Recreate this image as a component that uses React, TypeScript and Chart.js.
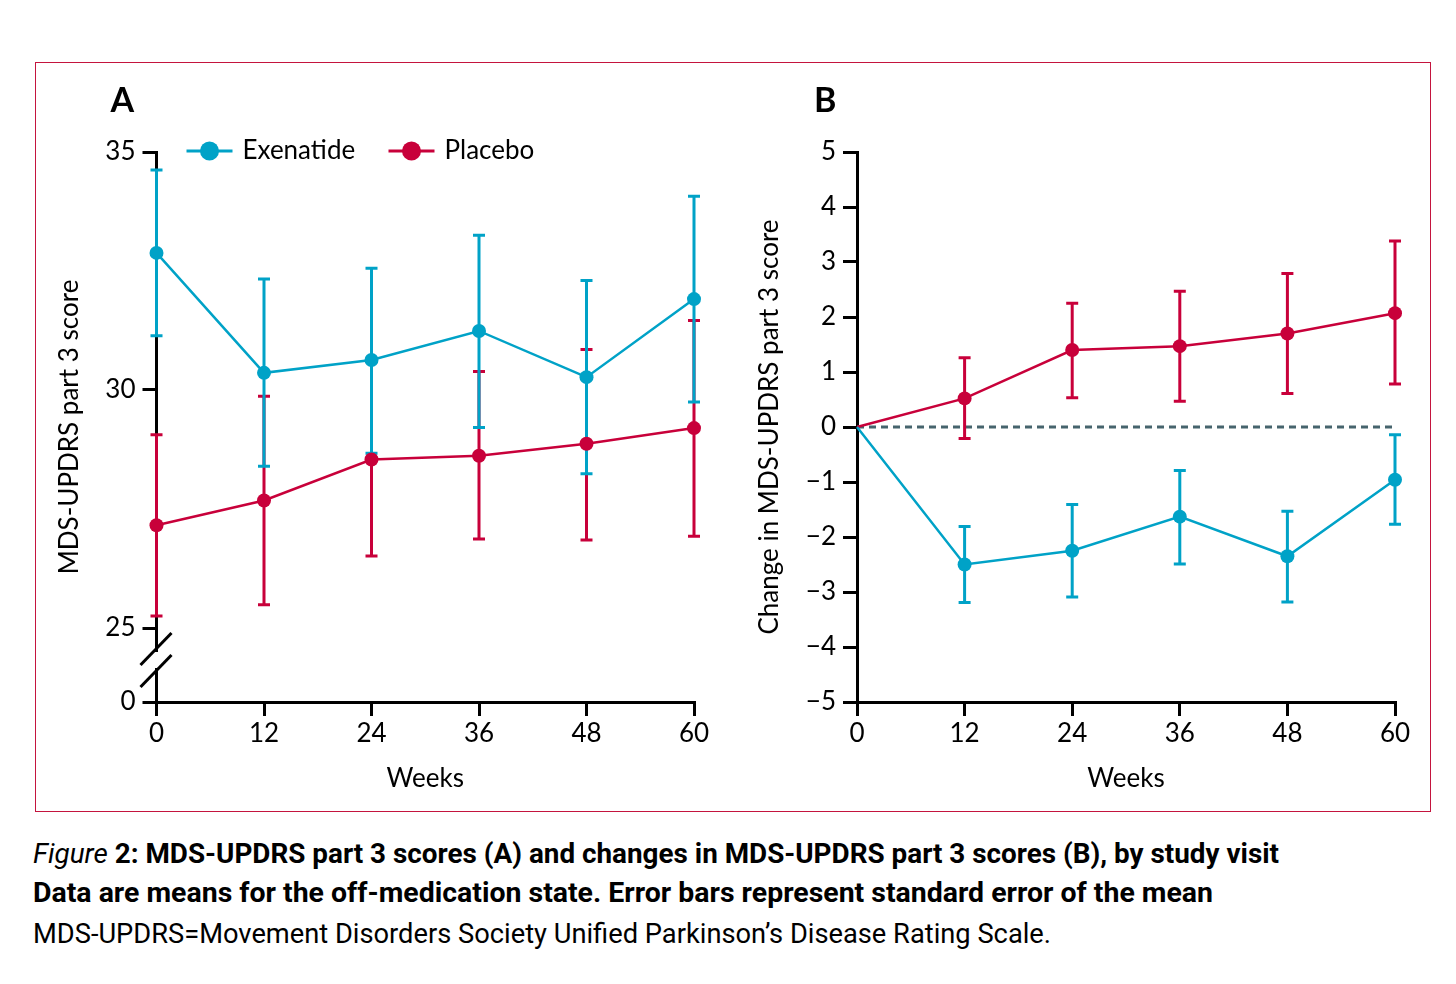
import React, { useEffect, useRef } from 'react';
import { Chart, registerables } from 'chart.js';

Chart.register(...registerables);

// ---------- data ----------
const weeks = [0, 12, 24, 36, 48, 60];

// Panel A: MDS-UPDRS part 3 score (mean, error bar high/low)
const exenatideScore = [32.88, 30.36, 30.63, 31.24, 30.27, 31.91];
const exenatideScoreHigh = [34.62, 32.33, 32.56, 33.25, 32.3, 34.07];
const exenatideScoreLow = [31.14, 28.4, 28.67, 29.21, 28.24, 29.75];
const placeboScore = [27.16, 27.68, 28.54, 28.62, 28.87, 29.2];
const placeboScoreHigh = [29.06, 29.87, 30.6, 30.39, 30.85, 31.46];
const placeboScoreLow = [25.25, 25.49, 26.51, 26.87, 26.85, 26.93];
const scoreTicks = [25, 30, 35];
const scoreAxisBreakLabel = '0';

// Panel B: change in MDS-UPDRS part 3 score
const exenatideChange = [0, -2.5, -2.25, -1.63, -2.35, -0.96];
const exenatideChangeHigh = [null, -1.81, -1.41, -0.79, -1.53, -0.14];
const exenatideChangeLow = [null, -3.19, -3.09, -2.49, -3.18, -1.77];
const placeboChange = [0, 0.52, 1.4, 1.47, 1.7, 2.07];
const placeboChangeHigh = [null, 1.26, 2.25, 2.47, 2.79, 3.38];
const placeboChangeLow = [null, -0.21, 0.53, 0.47, 0.61, 0.78];
const changeTicks = [-5, -4, -3, -2, -1, 0, 1, 2, 3, 4, 5];

const seriesNames = ['Exenatide', 'Placebo'];

// ---------- style ----------
const TEAL = '#00a2c7';
const RED = '#c8003a';
const FONT = 'Lato, "Open Sans", sans-serif';
const AXIS_FONT = { family: FONT, size: 26 };

const toPoints = (ys: (number | null)[]) => weeks.map((w, i) => ({ x: w, y: ys[i] }));
const fmtMinus = (v: number) => (v < 0 ? '\u2212' + Math.abs(v) : String(v));

type Err = { high: (number | null)[]; low: (number | null)[] };

function makeErrorBarPlugin(errs: Err[]) {
  return {
    id: 'errorBars',
    beforeDatasetsDraw(chart: any) {
      const { ctx } = chart;
      const xs = chart.scales.x;
      const ys = chart.scales.y;
      for (let i = errs.length - 1; i >= 0; i--) {
        const color = chart.data.datasets[i].borderColor;
        ctx.save();
        ctx.strokeStyle = color;
        ctx.lineWidth = 3;
        errs[i].high.forEach((h, j) => {
          const l = errs[i].low[j];
          if (h == null || l == null) return;
          const x = xs.getPixelForValue(weeks[j]);
          const yh = ys.getPixelForValue(h);
          const yl = ys.getPixelForValue(l);
          ctx.beginPath();
          ctx.moveTo(x, yh);
          ctx.lineTo(x, yl);
          ctx.moveTo(x - 6, yh);
          ctx.lineTo(x + 6, yh);
          ctx.moveTo(x - 6, yl);
          ctx.lineTo(x + 6, yl);
          ctx.stroke();
        });
        ctx.restore();
      }
    },
  };
}

function panelLabelPlugin(text: string, dx: number) {
  return {
    id: 'panelLabel',
    afterDraw(chart: any) {
      const { ctx, chartArea } = chart;
      ctx.save();
      ctx.font = `bold 34px ${FONT}`;
      ctx.fillStyle = '#000';
      ctx.textBaseline = 'middle';
      ctx.textAlign = 'left';
      ctx.fillText(text, chartArea.left + dx, chartArea.top - 51);
      ctx.restore();
    },
  };
}

const legendPlugin = {
  id: 'customLegend',
  afterDraw(chart: any) {
    const { ctx, chartArea } = chart;
    const y = chartArea.top - 1;
    const items = [
      { off: 30, color: TEAL, label: seriesNames[0] },
      { off: 232, color: RED, label: seriesNames[1] },
    ];
    ctx.save();
    items.forEach((it) => {
      const x0 = chartArea.left + it.off;
      ctx.strokeStyle = it.color;
      ctx.lineWidth = 3;
      ctx.beginPath();
      ctx.moveTo(x0, y);
      ctx.lineTo(x0 + 46, y);
      ctx.stroke();
      ctx.fillStyle = it.color;
      ctx.beginPath();
      ctx.arc(x0 + 23, y, 9.5, 0, Math.PI * 2);
      ctx.fill();
      ctx.fillStyle = '#000';
      ctx.font = `26px ${FONT}`;
      ctx.textBaseline = 'middle';
      ctx.textAlign = 'left';
      ctx.fillText(it.label, x0 + 56, y);
    });
    ctx.restore();
  },
};

const axisBreakPlugin = {
  id: 'axisBreak',
  afterDraw(chart: any) {
    const { ctx, chartArea } = chart;
    const ys = chart.scales.y;
    const x = chartArea.left;
    const p25 = ys.getPixelForValue(scoreTicks[0]);
    const c1 = p25 + 21;
    const c2 = p25 + 43;
    ctx.save();
    ctx.fillStyle = '#fff';
    ctx.fillRect(x - 3, c1 + 3, 6, c2 - c1 - 6);
    ctx.strokeStyle = '#000';
    ctx.lineWidth = 3;
    [c1, c2].forEach((c) => {
      ctx.beginPath();
      ctx.moveTo(x - 16, c + 16);
      ctx.lineTo(x + 15, c - 16);
      ctx.stroke();
    });
    ctx.restore();
  },
};

const zeroLinePlugin = {
  id: 'zeroLine',
  beforeDatasetsDraw(chart: any) {
    const { ctx, chartArea } = chart;
    const y = chart.scales.y.getPixelForValue(0);
    ctx.save();
    ctx.strokeStyle = '#46646d';
    ctx.lineWidth = 3;
    ctx.setLineDash([7, 5]);
    ctx.beginPath();
    ctx.moveTo(chartArea.left, y);
    ctx.lineTo(chartArea.right, y);
    ctx.stroke();
    ctx.restore();
  },
};

function baseScales(yWidth: number, yTitle: string) {
  return {
    x: {
      type: 'linear' as const,
      min: 0,
      max: 60,
      afterBuildTicks: (s: any) => {
        s.ticks = weeks.map((v) => ({ value: v }));
      },
      afterFit: (s: any) => {
        s.height = 108;
      },
      ticks: { font: AXIS_FONT, color: '#000', padding: 2, callback: (v: any) => String(v), maxRotation: 0 },
      grid: { drawOnChartArea: false, drawTicks: true, tickLength: 14, color: '#000', lineWidth: 3 },
      border: { display: true, color: '#000', width: 3 },
      title: { display: true, text: 'Weeks', font: AXIS_FONT, color: '#000', padding: { top: 0, bottom: 16 } },
    },
    y: {
      type: 'linear' as const,
      afterFit: (s: any) => {
        s.width = yWidth;
      },
      grid: { drawOnChartArea: false, drawTicks: true, tickLength: 14, color: '#000', lineWidth: 3 },
      border: { display: true, color: '#000', width: 3 },
      title: { display: true, text: yTitle, font: AXIS_FONT, color: '#000', padding: { top: 14, bottom: 0 } },
    },
  };
}

function lineDataset(label: string, color: string, ys: (number | null)[], radius: number | number[]) {
  return {
    label,
    data: toPoints(ys),
    borderColor: color,
    backgroundColor: color,
    pointBackgroundColor: color,
    pointBorderWidth: 0,
    pointRadius: radius,
    borderWidth: 2.5,
    tension: 0,
    clip: false as const,
  };
}

function ChartA() {
  const ref = useRef<HTMLCanvasElement>(null);
  useEffect(() => {
    const scales: any = baseScales(116.5, 'MDS-UPDRS part 3 score');
    const breakValue = scoreTicks[0] - 74 / 47.6;
    scales.y.min = breakValue;
    scales.y.max = scoreTicks[scoreTicks.length - 1];
    scales.y.afterBuildTicks = (s: any) => {
      s.ticks = [{ value: breakValue }, ...scoreTicks.map((v) => ({ value: v }))];
    };
    scales.y.ticks = {
      font: AXIS_FONT,
      color: '#000',
      padding: 7,
      callback: (v: any) => (v < scoreTicks[0] - 0.5 ? scoreAxisBreakLabel : String(v)),
    };
    const chart = new Chart(ref.current!, {
      type: 'line',
      data: {
        datasets: [
          lineDataset(seriesNames[0], TEAL, exenatideScore, 7),
          lineDataset(seriesNames[1], RED, placeboScore, 7),
        ],
      },
      options: {
        animation: false,
        responsive: false,
        layout: { padding: { top: 82, right: 46, left: 0, bottom: 0 } },
        plugins: { legend: { display: false }, tooltip: { enabled: false } },
        scales,
      },
      plugins: [
        makeErrorBarPlugin([
          { high: exenatideScoreHigh, low: exenatideScoreLow },
          { high: placeboScoreHigh, low: placeboScoreLow },
        ]),
        axisBreakPlugin,
        legendPlugin,
        panelLabelPlugin('A', -46),
      ],
    });
    return () => chart.destroy();
  }, []);
  return <canvas ref={ref} width={700} height={740} style={{ position: 'absolute', left: 40, top: 70, width: 700, height: 740 }} />;
}

function ChartB() {
  const ref = useRef<HTMLCanvasElement>(null);
  useEffect(() => {
    const scales: any = baseScales(117, 'Change in MDS-UPDRS part 3 score');
    scales.y.min = changeTicks[0];
    scales.y.max = changeTicks[changeTicks.length - 1];
    scales.y.afterBuildTicks = (s: any) => {
      s.ticks = changeTicks.map((v) => ({ value: v }));
    };
    scales.y.ticks = { font: AXIS_FONT, color: '#000', padding: 7, callback: (v: any) => fmtMinus(v) };
    const chart = new Chart(ref.current!, {
      type: 'line',
      data: {
        datasets: [
          lineDataset(seriesNames[0], TEAL, exenatideChange, [0, 7, 7, 7, 7, 7]),
          lineDataset(seriesNames[1], RED, placeboChange, [0, 7, 7, 7, 7, 7]),
        ],
      },
      options: {
        animation: false,
        responsive: false,
        layout: { padding: { top: 82, right: 30, left: 0, bottom: 0 } },
        plugins: { legend: { display: false }, tooltip: { enabled: false } },
        scales,
      },
      plugins: [
        zeroLinePlugin,
        makeErrorBarPlugin([
          { high: exenatideChangeHigh, low: exenatideChangeLow },
          { high: placeboChangeHigh, low: placeboChangeLow },
        ]),
        panelLabelPlugin('B', -43),
      ],
    });
    return () => chart.destroy();
  }, []);
  return <canvas ref={ref} width={685} height={740} style={{ position: 'absolute', left: 740, top: 70, width: 685, height: 740 }} />;
}

const CAPTION_FONT = 'Roboto, "Noto Sans", sans-serif';

function CaptionLine({ top, width, bold, children }: { top: number; width: number; bold?: boolean; children: React.ReactNode }) {
  const ref = useRef<HTMLDivElement>(null);
  useEffect(() => {
    const el = ref.current!;
    el.style.transform = 'none';
    const w = el.getBoundingClientRect().width;
    if (w > 0) el.style.transform = `scaleX(${width / w})`;
  }, [width]);
  return (
    <div
      ref={ref}
      style={{
        position: 'absolute',
        left: 33,
        top,
        fontFamily: CAPTION_FONT,
        fontSize: 28,
        lineHeight: '38px',
        whiteSpace: 'nowrap',
        color: '#000',
        fontWeight: bold ? 'bold' : 'normal',
        transformOrigin: 'left center',
        display: 'inline-block',
      }}
    >
      {children}
    </div>
  );
}

export default function App() {
  useEffect(() => {
    document.body.style.margin = '0';
    document.body.style.background = '#fff';
  }, []);
  return (
    <div style={{ position: 'relative', width: 1456, height: 984, background: '#fff' }}>
      <div
        style={{
          position: 'absolute',
          left: 35,
          top: 62,
          width: 1396,
          height: 750,
          border: '1px solid #c4143e',
          boxSizing: 'border-box',
        }}
      />
      <ChartA />
      <ChartB />
      <CaptionLine top={835} width={1246} bold>
        <span style={{ fontStyle: 'italic', fontWeight: 'normal' }}>Figure</span> 2: MDS-UPDRS part 3 scores (A) and changes in MDS-UPDRS part 3 scores (B), by study visit
      </CaptionLine>
      <CaptionLine top={874} width={1180} bold>
        Data are means for the off-medication state. Error bars represent standard error of the mean
      </CaptionLine>
      <CaptionLine top={915} width={1018}>
        MDS-UPDRS=Movement Disorders Society Unified Parkinson’s Disease Rating Scale.
      </CaptionLine>
    </div>
  );
}
